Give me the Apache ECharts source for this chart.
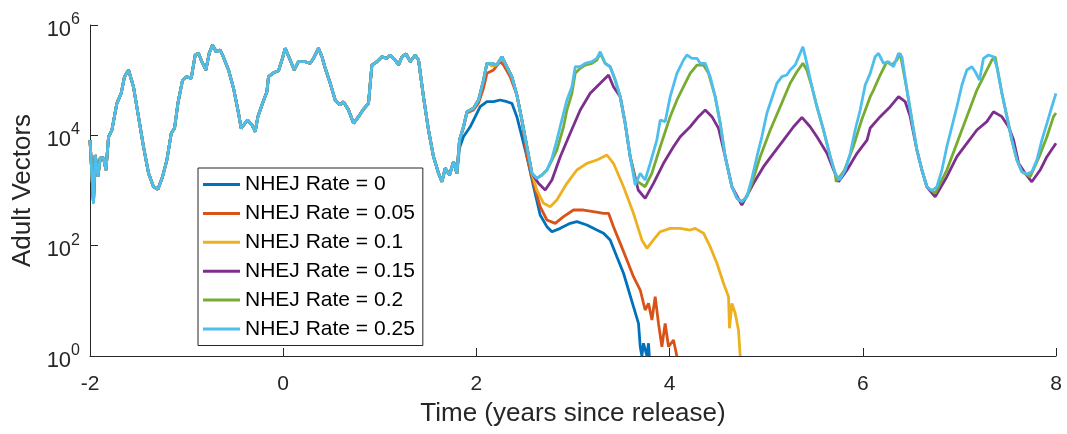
<!DOCTYPE html>
<html>
<head>
<meta charset="utf-8">
<script src="https://cdn.jsdelivr.net/npm/echarts@6.0.0/dist/echarts.min.js"></script>
<style>html,body{margin:0;padding:0;background:#fff;}#c{width:1067px;height:434px;}</style>
</head>
<body>
<div id="c"></div>
<script>
// Shared trajectory (all rates identical before divergence): [time (years), adult vectors]
const shared = [
[-2.000,8200],[-1.964,590],[-1.946,4400],[-1.918,1780],[-1.894,3880],[-1.860,3900],[-1.835,2350],[-1.808,9400],[-1.773,12500],[-1.722,38000],[-1.677,57800],[-1.643,115600],[-1.601,152800],[-1.550,76000],[-1.498,21800],[-1.446,6220],[-1.394,2050],[-1.343,1170],[-1.297,1050],[-1.249,1780],[-1.204,3570],[-1.159,10900],[-1.125,13400],[-1.090,38000],[-1.042,100700],[-0.997,115600],[-0.952,108000],[-0.911,285800],[-0.877,307000],[-0.842,216000],[-0.800,152800],[-0.766,307000],[-0.732,434000],[-0.694,328000],[-0.652,352000],[-0.628,286000],[-0.566,153000],[-0.514,71100],[-0.469,28800],[-0.435,13400],[-0.370,18960],[-0.324,15400],[-0.290,11640],[-0.262,21800],[-0.220,35500],[-0.169,61800],[-0.152,115600],[-0.100,136000],[-0.049,148000],[-0.013,232000],[0.021,378000],[0.072,232000],[0.114,153000],[0.158,216000],[0.228,216000],[0.280,202000],[0.314,249000],[0.365,378000],[0.401,266000],[0.435,164000],[0.487,87700],[0.538,43700],[0.590,35500],[0.624,40700],[0.676,28800],[0.728,16500],[0.780,21800],[0.825,28800],[0.883,38000],[0.918,188000],[0.970,216000],[1.022,266000],[1.073,249000],[1.108,286000],[1.159,232000],[1.194,188000],[1.229,266000],[1.273,298000],[1.315,216000],[1.366,286000],[1.401,232000],[1.452,50100],[1.504,12500],[1.556,4100],[1.608,2050],[1.643,1440],[1.677,2520],[1.722,1910],[1.763,3320],[1.798,2050]
];

const tailRate0 = [
[1.825,5890],[1.866,9440],[1.936,14300],[2.005,25100],[2.039,33000],[2.109,40700],[2.178,40700],[2.246,43700],[2.316,40700],[2.367,38000],[2.419,21800],[2.471,9440],[2.523,4100],[2.592,1170],[2.660,360],[2.730,221],[2.782,179],[2.868,206],[2.971,254],[3.040,272],[3.144,237],[3.247,192],[3.316,168],[3.385,127],[3.454,63],[3.523,31.6],[3.575,15.7],[3.626,7.83],[3.678,3.9],[3.696,1.47],[3.713,1],[3.730,1.7],[3.765,1],[3.782,1.7],[3.790,1]
];

const tailRate005 = [
[1.825,8200],[1.866,13600],[1.902,25400],[1.970,28800],[2.022,38500],[2.074,72100],[2.109,133000],[2.178,153000],[2.246,216000],[2.281,188000],[2.350,115600],[2.419,53800],[2.471,19000],[2.523,4100],[2.592,1350],[2.660,508],[2.730,292],[2.816,254],[2.902,335],[3.005,443],[3.109,443],[3.212,413],[3.316,386],[3.368,386],[3.419,221],[3.489,110],[3.558,55],[3.626,27.4],[3.696,15.7],[3.747,6.82],[3.782,9.0],[3.817,4.5],[3.851,11.9],[3.885,3.9],[3.920,1.47],[3.954,3.9],[3.989,1.47],[4.040,1.95],[4.075,1]
];

const tailRate01 = [
[1.825,8200],[1.866,14300],[1.902,26800],[1.970,30900],[2.022,43700],[2.074,100700],[2.109,202000],[2.160,181000],[2.212,188000],[2.264,266000],[2.316,175000],[2.367,115600],[2.419,53800],[2.471,19000],[2.523,6220],[2.575,2050],[2.626,1020],[2.695,586],[2.764,508],[2.833,673],[2.937,1350],[3.040,2350],[3.144,3110],[3.247,3570],[3.351,4400],[3.419,3110],[3.523,1170],[3.626,386],[3.713,127],[3.765,89.5],[3.833,127],[3.903,179],[4.006,206],[4.110,206],[4.213,192],[4.265,206],[4.351,168],[4.420,95.7],[4.490,47.9],[4.558,20.8],[4.610,11.9],[4.620,3.18],[4.645,9.0],[4.679,5.94],[4.713,2.96],[4.731,1]
];

const tailRate015 = [
[1.825,8200],[1.866,14300],[1.902,26800],[1.970,30900],[2.022,43700],[2.074,100700],[2.109,202000],[2.160,202000],[2.212,188000],[2.264,266000],[2.316,175000],[2.367,115600],[2.419,53800],[2.471,19000],[2.523,6220],[2.575,2050],[2.642,1350],[2.712,1020],[2.782,1550],[2.868,4100],[2.971,10900],[3.075,28800],[3.178,57800],[3.282,87700],[3.368,124000],[3.419,76000],[3.489,50100],[3.540,16500],[3.592,4100],[3.675,1020],[3.747,722],[3.833,1350],[3.937,3110],[4.040,6220],[4.110,9440],[4.213,14300],[4.299,21800],[4.369,28800],[4.438,21800],[4.507,13400],[4.576,4100],[4.645,1170],[4.748,546],[4.869,1350],[4.972,2700],[5.075,4720],[5.179,8200],[5.283,14300],[5.370,21200],[5.455,14300],[5.525,9440],[5.629,4720],[5.698,2350],[5.750,1440],[5.837,2350],[5.940,4720],[6.044,8200],[6.077,13600],[6.180,21800],[6.284,33000],[6.370,50100],[6.439,40700],[6.491,21800],[6.560,5420],[6.612,2350],[6.663,1170],[6.749,771],[6.870,1780],[6.974,4100],[7.077,7170],[7.181,12500],[7.284,17700],[7.353,26800],[7.440,21800],[7.509,14300],[7.561,8200],[7.613,3110],[7.681,2050],[7.750,1440],[7.836,2350],[7.906,4100],[8.000,7170]
];

const tailRate02 = [
[1.825,8200],[1.866,14300],[1.902,26800],[1.970,30900],[2.022,43700],[2.074,100700],[2.109,202000],[2.160,202000],[2.212,188000],[2.264,266000],[2.316,175000],[2.367,115600],[2.419,53800],[2.471,19000],[2.523,6220],[2.575,2050],[2.626,1660],[2.678,1910],[2.730,2350],[2.782,3570],[2.833,5420],[2.902,14300],[2.937,28800],[2.989,57800],[3.023,133000],[3.075,164000],[3.126,188000],[3.196,202000],[3.247,232000],[3.282,307000],[3.333,202000],[3.385,175000],[3.437,100700],[3.489,50100],[3.540,16500],[3.592,4100],[3.644,1550],[3.696,1350],[3.747,1170],[3.816,2050],[3.903,6220],[4.006,21800],[4.076,43700],[4.144,76000],[4.213,133000],[4.283,188000],[4.351,188000],[4.403,133000],[4.472,50100],[4.524,16500],[4.576,4100],[4.645,1170],[4.697,723],[4.748,627],[4.800,771],[4.852,1350],[4.938,4100],[5.042,12500],[5.145,33000],[5.248,87700],[5.318,142000],[5.380,202000],[5.421,153000],[5.473,76000],[5.525,33000],[5.593,12500],[5.663,4100],[5.714,2050],[5.725,1440],[5.811,2350],[5.901,6220],[5.988,19000],[6.077,50100],[6.111,66200],[6.180,124000],[6.249,216000],[6.301,188000],[6.353,232000],[6.387,307000],[6.457,66200],[6.508,19000],[6.560,5420],[6.612,2350],[6.663,1170],[6.749,890],[6.870,2350],[6.974,7170],[7.077,21800],[7.181,66200],[7.267,133000],[7.336,232000],[7.370,266000],[7.440,57800],[7.492,21800],[7.543,8200],[7.595,3570],[7.647,2190],[7.733,1780],[7.826,4100],[7.906,9440],[7.974,21800],[8.000,25400]
];

const tailRate025 = [
[1.825,8200],[1.866,14300],[1.902,26800],[1.970,30900],[2.022,43700],[2.074,100700],[2.109,202000],[2.160,202000],[2.212,188000],[2.264,266000],[2.316,175000],[2.367,115600],[2.419,53800],[2.471,19000],[2.523,6220],[2.575,2050],[2.626,1660],[2.678,1910],[2.730,2350],[2.782,3830],[2.833,8200],[2.902,25100],[2.937,43700],[2.989,76000],[3.023,175000],[3.075,175000],[3.126,202000],[3.196,216000],[3.247,249000],[3.282,328000],[3.333,202000],[3.385,175000],[3.437,100700],[3.489,50100],[3.540,16500],[3.592,4100],[3.644,1260],[3.696,2050],[3.747,1550],[3.799,3110],[3.868,8200],[3.903,19000],[3.954,17700],[4.006,50100],[4.076,133000],[4.144,232000],[4.179,286000],[4.231,249000],[4.283,249000],[4.317,202000],[4.369,202000],[4.420,115600],[4.472,50100],[4.524,16500],[4.576,4100],[4.645,1170],[4.697,723],[4.748,627],[4.800,771],[4.852,1660],[4.904,4100],[4.955,9440],[5.007,25100],[5.059,46900],[5.111,87700],[5.162,115600],[5.214,124000],[5.248,153000],[5.300,188000],[5.352,307000],[5.380,404000],[5.421,202000],[5.473,76000],[5.525,33000],[5.593,12500],[5.663,4100],[5.714,2050],[5.759,1550],[5.818,2350],[5.870,4720],[5.921,12500],[5.973,28800],[6.025,81600],[6.077,133000],[6.128,266000],[6.163,307000],[6.214,202000],[6.266,216000],[6.318,175000],[6.370,307000],[6.405,266000],[6.457,66200],[6.508,19000],[6.560,5420],[6.612,2350],[6.663,1170],[6.715,991],[6.767,1170],[6.819,2350],[6.870,6220],[6.922,14300],[6.974,33000],[7.026,81600],[7.077,153000],[7.129,175000],[7.164,142000],[7.208,100700],[7.249,249000],[7.301,286000],[7.353,266000],[7.388,175000],[7.440,57800],[7.492,21800],[7.543,8200],[7.595,3570],[7.647,2190],[7.699,1990],[7.750,2190],[7.802,3570],[7.854,8200],[7.906,16500],[7.957,33000],[8.000,57800]
];

const seriesNames = ['NHEJ Rate = 0','NHEJ Rate = 0.05','NHEJ Rate = 0.1','NHEJ Rate = 0.15','NHEJ Rate = 0.2','NHEJ Rate = 0.25'];
const seriesTails = [tailRate0, tailRate005, tailRate01, tailRate015, tailRate02, tailRate025];
const xTicks = [-2, 0, 2, 4, 6, 8];
const yTickExponents = [0, 2, 4, 6];

const colors = ['#0072BD','#D95319','#EDB120','#7E2F8E','#77AC30','#4DBEEE'];
const FONT = 'Liberation Sans, Arial, Helvetica, sans-serif';

const chart = echarts.init(document.getElementById('c'), null, {renderer: 'canvas'});
chart.setOption({
  animation: false,
  backgroundColor: '#fff',
  color: colors,
  grid: {left: 90, right: 11, top: 25, bottom: 78, containLabel: false},
  legend: {
    orient: 'vertical', left: 198, top: 168,
    data: seriesNames,
    icon: 'path://M0,0 L37,0 L37,3 L0,3 Z',
    backgroundColor: '#fff', borderColor: '#262626', borderWidth: 1,
    padding: [6, 8, 6, 5],
    itemWidth: 37, itemHeight: 20, itemGap: 7.9,
    textStyle: {fontFamily: FONT, fontSize: 21, color: '#000'},
    selectedMode: false
  },
  xAxis: {
    type: 'value', min: xTicks[0], max: xTicks[xTicks.length-1], interval: 2,
    name: 'Time (years since release)', nameLocation: 'middle', nameGap: 45,
    nameTextStyle: {fontFamily: FONT, fontSize: 26, color: '#262626'},
    axisLine: {show: true, onZero: false, lineStyle: {color: '#262626', width: 1}},
    axisTick: {show: true, inside: true, length: 8, lineStyle: {color: '#262626'}},
    axisLabel: {fontFamily: FONT, fontSize: 21, color: '#262626', margin: 18},
    splitLine: {show: false}
  },
  yAxis: {
    type: 'log', logBase: 10, min: Math.pow(10, yTickExponents[0]), max: Math.pow(10, yTickExponents[yTickExponents.length-1]), interval: 2,
    name: 'Adult Vectors', nameLocation: 'middle', nameGap: 52,
    nameTextStyle: {fontFamily: FONT, fontSize: 26, color: '#262626'},
    axisLine: {show: true, onZero: false, lineStyle: {color: '#262626', width: 1}},
    axisTick: {show: true, inside: true, length: 8, lineStyle: {color: '#262626'}},
    axisLabel: {
      margin: 10,
      formatter: function (v) { return '{b|10}{s|' + Math.round(Math.log10(v)) + '}'; },
      rich: {
        b: {fontFamily: FONT, fontSize: 22, color: '#262626', padding: [9, 0, 0, 0]},
        s: {fontFamily: FONT, fontSize: 16, color: '#262626', padding: [0, 0, 11, 0]}
      }
    },
    splitLine: {show: false}
  },
  series: seriesNames.map((name, i) => ({
    name: name, type: 'line',
    data: shared.concat(seriesTails[i]),
    symbol: 'none', showSymbol: false,
    lineStyle: {width: 2.8, color: colors[i]},
    itemStyle: {color: colors[i]},
    z: 2 + i
  }))
});
</script>
</body>
</html>
